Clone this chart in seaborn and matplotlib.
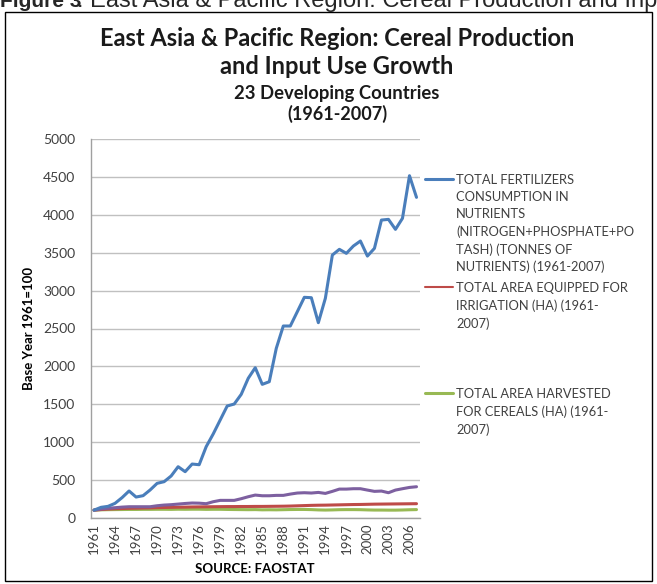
import numpy as np
import pandas as pd
import matplotlib
matplotlib.use("Agg")
import matplotlib.pyplot as plt
from matplotlib.lines import Line2D
from matplotlib.patches import Rectangle
import seaborn as sns

years = list(range(1961, 2008))

fertilizers = [100, 137, 150, 190, 265, 353, 273, 291, 366, 454, 476, 551, 674, 608, 709, 700,
               938, 1106, 1291, 1476, 1502, 1630, 1842, 1982, 1762, 1797, 2238, 2533, 2533, 2722,
               2912, 2907, 2577, 2899, 3471, 3546, 3493, 3590, 3656, 3457, 3559, 3933, 3942, 3810,
               3956, 4519, 4233]
cereal_prod = [100, 115, 125, 132, 140, 145, 145, 145, 145, 158, 167, 172, 180, 188, 194, 192,
               185, 211, 229, 229, 229, 251, 277, 299, 290, 290, 295, 295, 312, 326,
               330, 326, 334, 321, 348, 378, 378, 383, 383, 365, 348, 352, 330, 365,
               383, 400, 409]
irrigation = [100, 108, 114, 118, 121, 124, 126, 128, 130, 133, 135, 137, 139, 140, 142, 143,
              144, 145, 146, 147, 147, 148, 148, 149, 149, 150, 151, 152, 154, 157,
              160, 163, 165, 166, 168, 170, 172, 174, 175, 177, 179, 180, 181, 182,
              183, 184, 185]
harvested = [100, 104, 106, 107, 108, 109, 109, 110, 110, 111, 111, 110, 112, 111, 112, 112,
             110, 111, 111, 109, 108, 107, 106, 107, 104, 105, 104, 106, 108, 109,
             109, 107, 103, 101, 103, 106, 107, 107, 106, 103, 101, 101, 100, 100,
             102, 105, 107]

legend_labels = [
    "TOTAL FERTILIZERS\nCONSUMPTION IN\nNUTRIENTS\n(NITROGEN+PHOSPHATE+PO\nTASH) (TONNES OF\nNUTRIENTS) (1961-2007)",
    "TOTAL AREA EQUIPPED FOR\nIRRIGATION (HA) (1961-\n2007)",
    "TOTAL AREA HARVESTED\nFOR CEREALS (HA) (1961-\n2007)",
]
y_ticks = [0, 500, 1000, 1500, 2000, 2500, 3000, 3500, 4000, 4500, 5000]
x_tick_years = list(range(1961, 2008, 3))

C_BLUE = "#4A7EBB"
C_RED = "#BE4B48"
C_GREEN = "#98B954"
C_PURPLE = "#7D60A0"
TXT = "#404040"

sns.set_style("white")
plt.rcParams['font.family'] = ['Lato', 'DejaVu Sans']

df = pd.DataFrame({"year": years, "fert": fertilizers, "cereal": cereal_prod,
                   "irr": irrigation, "harv": harvested})

fig = plt.figure(figsize=(6.57, 5.84), dpi=100)
W, H = 657, 584
ax = fig.add_axes([90.5 / W, 1 - 517.7 / H, (420 - 90.5) / W, (517.7 - 139.3) / H])

sns.lineplot(data=df, x="year", y="harv", color=C_GREEN, lw=2.2, ax=ax)
sns.lineplot(data=df, x="year", y="irr", color=C_RED, lw=2.2, ax=ax)
sns.lineplot(data=df, x="year", y="cereal", color=C_PURPLE, lw=2.2, ax=ax)
sns.lineplot(data=df, x="year", y="fert", color=C_BLUE, lw=2.2, ax=ax)

ax.set_xlim(1960.5, 2007.5)
ax.set_ylim(0, 5000)
ax.set_yticks(y_ticks)
ax.set_yticklabels([str(v) for v in y_ticks], fontsize=10, color=TXT)
ax.set_xticks(x_tick_years)
ax.set_xticklabels([str(y) for y in x_tick_years], rotation=90, fontsize=9.5, color=TXT)
ax.set_xticks(np.arange(1960.5, 2008.5, 1), minor=True)
ax.tick_params(axis="x", which="major", length=0, pad=4)
ax.tick_params(axis="x", which="minor", length=4, color="#a0a0a0", direction="out")
ax.tick_params(axis="y", length=6, color="#a0a0a0", direction="out", pad=5)
ax.grid(axis="y", color="#c0c0c0", lw=1)
ax.grid(axis="x", visible=False)
ax.set_axisbelow(True)
for s in ["top", "right"]:
    ax.spines[s].set_visible(False)
for s in ["left", "bottom"]:
    ax.spines[s].set_color("#a0a0a0")
    ax.spines[s].set_linewidth(1)

ax.set_ylabel("Base Year 1961=100", fontsize=9.5, fontweight="bold", color="black", labelpad=6)
ax.set_xlabel("SOURCE: FAOSTAT", fontsize=9.5, fontweight="bold", color="black", labelpad=6)

# legends (one block per series, handle aligned with the first text line)
leg_specs = [(C_BLUE, legend_labels[0], 182, 2.2), (C_RED, legend_labels[1], 290, 1.5),
             (C_GREEN, legend_labels[2], 396, 2.2)]
for color, label, ypix, lw in leg_specs:
    h = Line2D([0], [0], color=color, lw=lw)
    leg = fig.legend([h], [label], loc="upper left",
                     bbox_to_anchor=(425 / W, 1 - (ypix - 8) / H),
                     frameon=False, fontsize=9.3, handlelength=2.2, handletextpad=0.2,
                     borderaxespad=0, borderpad=0, labelcolor=TXT)
    for t in leg.get_texts():
        t.set_linespacing(1.5)
    for col in leg._legend_handle_box.get_children():
        for item in col.get_children():
            item.align = "top"

# titles
fig.text(337 / W, 1 - 38 / H, "East Asia & Pacific Region: Cereal Production", ha="center", va="center",
         fontsize=17, fontweight="bold", color="#1a1a1a")
fig.text(337 / W, 1 - 66 / H, "and Input Use Growth", ha="center", va="center",
         fontsize=17, fontweight="bold", color="#1a1a1a")
fig.text(337 / W, 1 - 94 / H, "23 Developing Countries", ha="center", va="center",
         fontsize=13.3, fontweight="bold", color="#1a1a1a")
fig.text(337 / W, 1 - 114 / H, "(1961-2007)", ha="center", va="center",
         fontsize=13, fontweight="bold", color="#1a1a1a")

# header line (cut off at the top, as in the source page)
fig.text(0 / W, 1 - 7 / H, "Figure 3", ha="left", va="baseline", fontsize=15, fontweight="bold",
         family=["Liberation Sans", "DejaVu Sans"])
fig.text(77 / W, 1 - 7 / H, ": East Asia & Pacific Region: Cereal Production and Input", ha="left",
         va="baseline", fontsize=17, family=["Liberation Sans", "DejaVu Sans"])

# frame
fig.patches.append(Rectangle((5 / W, 3 / H), (652 - 5) / W, (572 - 3) / H, transform=fig.transFigure,
                             fill=False, edgecolor="black", lw=1))

fig.savefig("out.png", dpi=100)
